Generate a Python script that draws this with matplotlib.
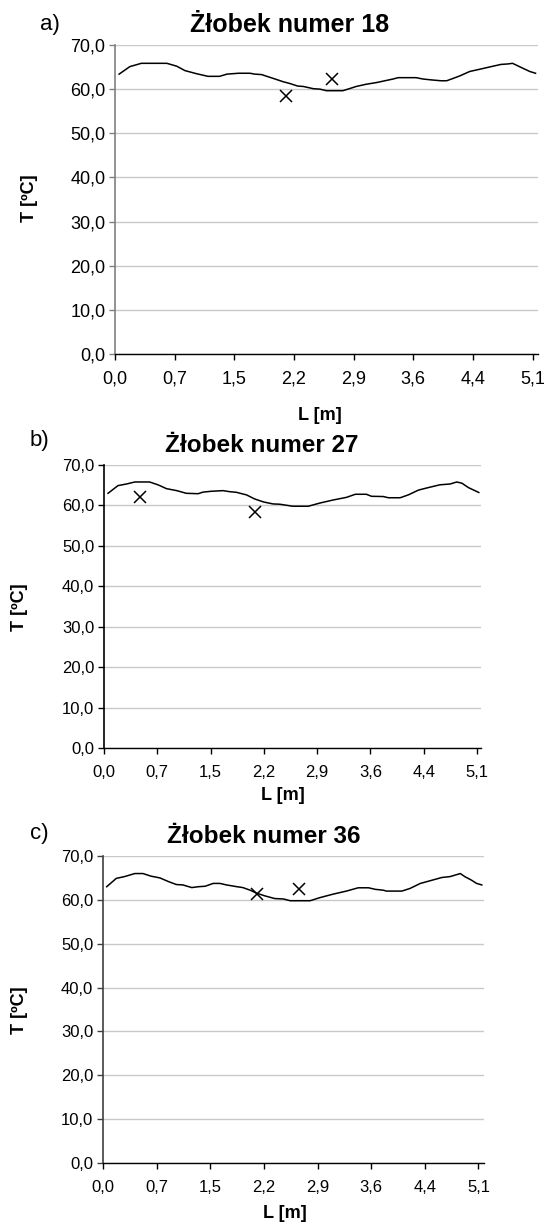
import matplotlib
matplotlib.use("Agg")
import matplotlib.pyplot as plt
from matplotlib.ticker import FixedLocator, FixedFormatter

plt.rcParams['font.family'] = ['Liberation Sans', 'DejaVu Sans']

# ---- data ----
xtick_pos = [0.0, 0.725, 1.45, 2.175, 2.9, 3.625, 4.35, 5.075]
xtick_labels = ["0,0", "0,7", "1,5", "2,2", "2,9", "3,6", "4,4", "5,1"]
ytick_pos = [0, 10, 20, 30, 40, 50, 60, 70]
ytick_labels = ["0,0", "10,0", "20,0", "30,0", "40,0", "50,0", "60,0", "70,0"]

La = [0.05, 0.18, 0.32, 0.63, 0.75, 0.85, 0.99, 1.13, 1.27, 1.36, 1.50, 1.64, 1.70, 1.78, 1.92, 2.04,
      2.12, 2.22, 2.29, 2.41, 2.49, 2.57, 2.77, 2.83, 2.93, 3.05, 3.18, 3.28, 3.38, 3.44, 3.66, 3.74,
      3.84, 3.96, 4.03, 4.09, 4.19, 4.31, 4.43, 4.57, 4.69, 4.77, 4.83, 4.87, 4.96, 5.04, 5.11]
Ta = [63.4, 65.1, 65.85, 65.85, 65.2, 64.2, 63.5, 62.9, 62.9, 63.4, 63.6, 63.6, 63.4, 63.3, 62.45, 61.7,
      61.3, 60.7, 60.6, 60.1, 60.0, 59.65, 59.65, 60.0, 60.6, 61.1, 61.5, 61.9, 62.3, 62.6, 62.6, 62.3,
      62.1, 61.9, 61.9, 62.3, 63.0, 64.0, 64.5, 65.1, 65.6, 65.7, 65.85, 65.5, 64.7, 64.0, 63.6]
Ma_L = [2.08, 2.64]
Ma_T = [58.45, 62.3]

Lb = [0.055, 0.19, 0.305, 0.42, 0.62, 0.74, 0.85, 0.99, 1.12, 1.28, 1.35, 1.46, 1.62, 1.71, 1.80, 1.94,
      2.05, 2.17, 2.30, 2.39, 2.57, 2.78, 2.94, 3.12, 3.30, 3.42, 3.57, 3.64, 3.80, 3.87, 4.03, 4.14,
      4.28, 4.41, 4.57, 4.71, 4.80, 4.87, 4.96, 5.10]
Tb = [63.0, 64.9, 65.3, 65.8, 65.8, 65.06, 64.15, 63.66, 63.0, 62.9, 63.3, 63.5, 63.66, 63.4, 63.25, 62.6,
      61.6, 60.86, 60.37, 60.3, 59.8, 59.8, 60.6, 61.35, 62.0, 62.76, 62.76, 62.26, 62.2, 61.9, 61.9, 62.6,
      63.8, 64.4, 65.1, 65.3, 65.8, 65.5, 64.4, 63.2]
Mb_L = [0.49, 2.06]
Mb_T = [62.0, 58.3]

Lc = [0.05, 0.18, 0.29, 0.43, 0.54, 0.65, 0.77, 0.88, 0.99, 1.08, 1.20, 1.29, 1.38, 1.49, 1.58, 1.67,
      1.81, 1.89, 1.99, 2.08, 2.19, 2.32, 2.44, 2.53, 2.80, 2.93, 3.11, 3.29, 3.45, 3.59, 3.68, 3.79,
      3.83, 4.04, 4.15, 4.29, 4.42, 4.58, 4.69, 4.83, 4.89, 4.98, 5.05, 5.12]
Tc = [63.0, 64.9, 65.3, 66.0, 66.0, 65.4, 65.0, 64.2, 63.5, 63.4, 62.8, 63.0, 63.1, 63.75, 63.75, 63.4,
      63.0, 62.8, 62.2, 61.5, 60.9, 60.3, 60.2, 59.8, 59.8, 60.5, 61.3, 62.0, 62.75, 62.75, 62.4, 62.2,
      62.0, 62.0, 62.6, 63.75, 64.35, 65.1, 65.3, 66.0, 65.3, 64.5, 63.75, 63.4]
Mc_L = [2.08, 2.65]
Mc_T = [61.3, 62.45]

titles = ["Żłobek numer 18", "Żłobek numer 27", "Żłobek numer 36"]
letters = ["a)", "b)", "c)"]
xlabel = "L [m]"
ylabel = "T [ºC]"

W, H = 555, 1227
fig = plt.figure(figsize=(W / 100, H / 100), dpi=100)

# panel layout in pixels: left, right, top, bottom, xmax
panels = [
    dict(l=115, r=538, t=45, b=354, xmax=5.14, L=La, T=Ta, ML=Ma_L, MT=Ma_T, fs=13, tfs=18,
         left_color="#808080", title_xy=(290, 32), letter_xy=(40, 30), xl_xy=(320, 415), yl_xy=(30, 198)),
    dict(l=104, r=481, t=465, b=748, xmax=5.13, L=Lb, T=Tb, ML=Mb_L, MT=Mb_T, fs=12, tfs=17.5,
         left_color="#000000", title_xy=(262, 452), letter_xy=(30, 446), xl_xy=(283, 795), yl_xy=(20, 607)),
    dict(l=103, r=484, t=856, b=1163, xmax=5.15, L=Lc, T=Tc, ML=Mc_L, MT=Mc_T, fs=12, tfs=17.5,
         left_color="#404040", title_xy=(264, 843), letter_xy=(30, 839), xl_xy=(285, 1213), yl_xy=(20, 1010)),
]

for i, p in enumerate(panels):
    ax = fig.add_axes([p['l'] / W, 1 - p['b'] / H, (p['r'] - p['l']) / W, (p['b'] - p['t']) / H])
    ax.set_xlim(0, p['xmax'])
    ax.set_ylim(0, 70)
    ax.yaxis.set_major_locator(FixedLocator(ytick_pos))
    ax.yaxis.set_major_formatter(FixedFormatter(ytick_labels))
    ax.xaxis.set_major_locator(FixedLocator(xtick_pos))
    ax.xaxis.set_major_formatter(FixedFormatter(xtick_labels))
    ax.grid(axis='y', color='#c8c8c8', linewidth=1.0)
    ax.set_axisbelow(True)
    for s in ['top', 'right']:
        ax.spines[s].set_visible(False)
    ax.spines['left'].set_color(p['left_color'])
    ax.spines['left'].set_linewidth(1.2)
    ax.spines['bottom'].set_color('#000000')
    ax.spines['bottom'].set_linewidth(1.0)
    ax.tick_params(axis='y', direction='out', length=4, width=1, colors=p['left_color'],
                   labelcolor='black', labelsize=p['fs'], pad=3)
    ax.tick_params(axis='x', direction='out', length=4, width=1, colors='black',
                   labelsize=p['fs'], pad=8)
    ax.plot(p['L'], p['T'], color='black', linewidth=1.1, clip_on=False)
    ax.plot(p['ML'], p['MT'], linestyle='none', marker='x', markersize=8,
            markeredgewidth=1.1, color='black', clip_on=False)

    fig.text(p['title_xy'][0] / W, 1 - p['title_xy'][1] / H, titles[i], ha='center', va='baseline',
             fontsize=p['tfs'], fontweight='bold')
    fig.text(p['letter_xy'][0] / W, 1 - p['letter_xy'][1] / H, letters[i], ha='left', va='baseline',
             fontsize=16)
    fig.text(p['xl_xy'][0] / W, 1 - p['xl_xy'][1] / H, xlabel, ha='center', va='center',
             fontsize=13, fontweight='bold')
    fig.text(p['yl_xy'][0] / W, 1 - p['yl_xy'][1] / H, ylabel, ha='center', va='center',
             fontsize=13, fontweight='bold', rotation=90)

fig.savefig("out.png", dpi=100)
